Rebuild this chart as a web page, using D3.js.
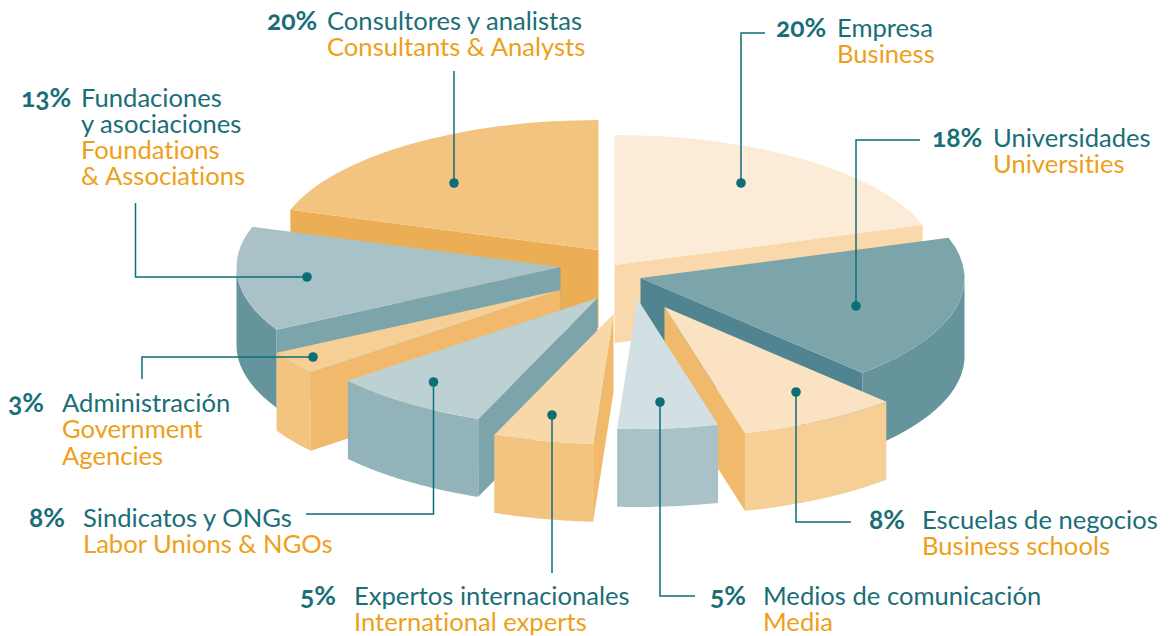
<!DOCTYPE html>
<html>
<head>
<meta charset="utf-8">
<script src="https://cdn.jsdelivr.net/npm/d3@7"></script>
<style>
  html, body { margin: 0; background: #fff; }
  text { font-family: "Lato", sans-serif; font-size: 25.6px; font-variant-ligatures: none; }
  .pct { font-size: 26.5px; font-weight: 700; fill: #1a6e78; font-feature-settings: "onum"; }
  .es { fill: #1a6e78; }
  .en { fill: #ee9f1a; }
</style>
</head>
<body>
<svg id="chart"></svg>
<script>
// Data, slice order is clockwise from 12 o'clock
const values = [20, 18, 8, 5, 5, 8, 3, 13, 20];
const namesEs = [
  ["Empresa"], ["Universidades"], ["Escuelas de negocios"], ["Medios de comunicación"],
  ["Expertos internacionales"], ["Sindicatos y ONGs"], ["Administración"],
  ["Fundaciones", "y asociaciones"], ["Consultores y analistas"]
];
const namesEn = [
  ["Business"], ["Universities"], ["Business schools"], ["Media"],
  ["International experts"], ["Labor Unions & NGOs"], ["Government", "Agencies"],
  ["Foundations", "& Associations"], ["Consultants & Analysts"]
];

// Layout
const width = 1170, height = 636;
const radiusX = 324, radiusY = 130, depth = 78;

// where the point of each exploded slice ends up
const apexes = [[614.5, 265], [640.5, 278], [664.5, 307], [637.5, 299], [613.5, 314], [597.5, 298], [560.5, 290], [560.5, 267], [598.5, 250]];

// top, rim wall, cut face
const colors = [
  ["#fcebd6", "#f9d9ab", "#f9d9ab"],
  ["#7ca4ab", "#65949d", "#4f8490"],
  ["#fae2c2", "#f5cf96", "#f1b96c"],
  ["#d3e0e3", "#a9c2c8", "#a9c2c8"],
  ["#f8d7a9", "#f3c480", "#f1b96c"],
  ["#bdd1d5", "#92b3ba", "#7ca4ab"],
  ["#f5cf96", "#f3c480", "#f1b96c"],
  ["#a8c2c7", "#65949d", "#7ca4ab"],
  ["#f3c480", "#ecae54", "#ecae54"]
];

// back slices first so the front ones overlap them
const paintOrder = [0, 8, 1, 7, 2, 6, 5, 3, 4];

// dot, then the leader's bends out to the label
const leaders = [
  [[741, 183], [741, 33], [765, 33]],
  [[856, 306], [856, 140], [920, 140]],
  [[796, 392], [796, 522], [851, 522]],
  [[660, 402], [660, 596], [695, 596]],
  [[552, 415], [552, 573]],
  [[433.5, 382], [433.5, 514], [306, 514]],
  [[313, 357], [142, 357], [142, 379]],
  [[307, 277], [135.5, 277], [135.5, 203]],
  [[454, 183], [454, 71]]
];

// percent x, name x, first baseline
const labelPos = [
  [776, 837, 37], [932, 993, 146.5], [869, 922, 529], [710, 763, 605], [300, 354, 605],
  [29, 83, 527], [8, 62, 412], [21, 81, 106.5], [267, 327, 30]
];
const lineHeight = 26.3;

const svg = d3.select("#chart").attr("width", width).attr("height", height);

const pie = d3.pie().sort(null).value(d => d.value);
const slices = pie(values.map((value, i) => ({ value, i })));

const arc = d3.arc().innerRadius(0).outerRadius(1);
const rimX = d3.scaleLinear().domain([-1, 1]).range([-radiusX, radiusX]);
const rimY = d3.scaleLinear().domain([-1, 1]).range([radiusY, -radiusY]);
const rimPoint = a => [rimX(Math.sin(a)), rimY(Math.cos(a))];
const line = d3.line();

function wallPath(s) {
  // only the front half of the rim can be seen
  const a0 = Math.max(s.startAngle, Math.PI / 2);
  const a1 = Math.min(s.endAngle, 3 * Math.PI / 2);
  if (a1 <= a0) return null;
  const angles = d3.range(a0, a1, 0.01).concat(a1);
  const upper = angles.map(rimPoint);
  const lower = upper.map(p => [p[0], p[1] + depth]).reverse();
  return line(upper.concat(lower)) + "Z";
}

function facePath(s) {
  // cut side that faces the viewer: start edge on the left half, end edge on the right
  const a = s.startAngle >= Math.PI ? s.startAngle : s.endAngle;
  if (a > Math.PI && s.startAngle < Math.PI) return null;
  const [x, y] = rimPoint(a);
  return line([[0, 0], [x, y], [x, y + depth], [0, depth]]) + "Z";
}

const sliceG = svg.append("g").selectAll("g")
    .data(paintOrder.map(i => slices[i]))
  .join("g")
    .attr("transform", d => `translate(${apexes[d.data.i]})`);

sliceG.append("path")
    .attr("d", facePath)
    .attr("fill", d => colors[d.data.i][2]);

sliceG.append("path")
    .attr("d", wallPath)
    .attr("fill", d => colors[d.data.i][1]);

sliceG.append("path")
    .attr("d", arc)
    .attr("transform", `scale(${radiusX},${radiusY})`)
    .attr("fill", d => colors[d.data.i][0]);

// Leaders
svg.append("g").selectAll("path")
    .data(leaders)
  .join("path")
    .attr("d", d => line(d))
    .attr("fill", "none")
    .attr("stroke", "#0e6e78")
    .attr("stroke-width", 1.5);

svg.append("g").selectAll("circle")
    .data(leaders)
  .join("circle")
    .attr("cx", d => d[0][0])
    .attr("cy", d => d[0][1])
    .attr("r", 4.8)
    .attr("fill", "#0e6e78");

// Labels
const labelG = svg.append("g").selectAll("g")
    .data(values)
  .join("g");

labelG.append("text")
    .attr("class", "pct")
    .attr("x", (d, i) => labelPos[i][0])
    .attr("y", (d, i) => labelPos[i][2])
    .text(d => d + "%");

labelG.each(function (d, i) {
  const lines = namesEs[i].map(t => ["es", t]).concat(namesEn[i].map(t => ["en", t]));
  d3.select(this).selectAll(".name")
      .data(lines)
    .join("text")
      .attr("class", l => "name " + l[0])
      .attr("x", labelPos[i][1])
      .attr("y", (l, j) => labelPos[i][2] + j * lineHeight)
      .text(l => l[1]);
});
</script>
</body>
</html>
